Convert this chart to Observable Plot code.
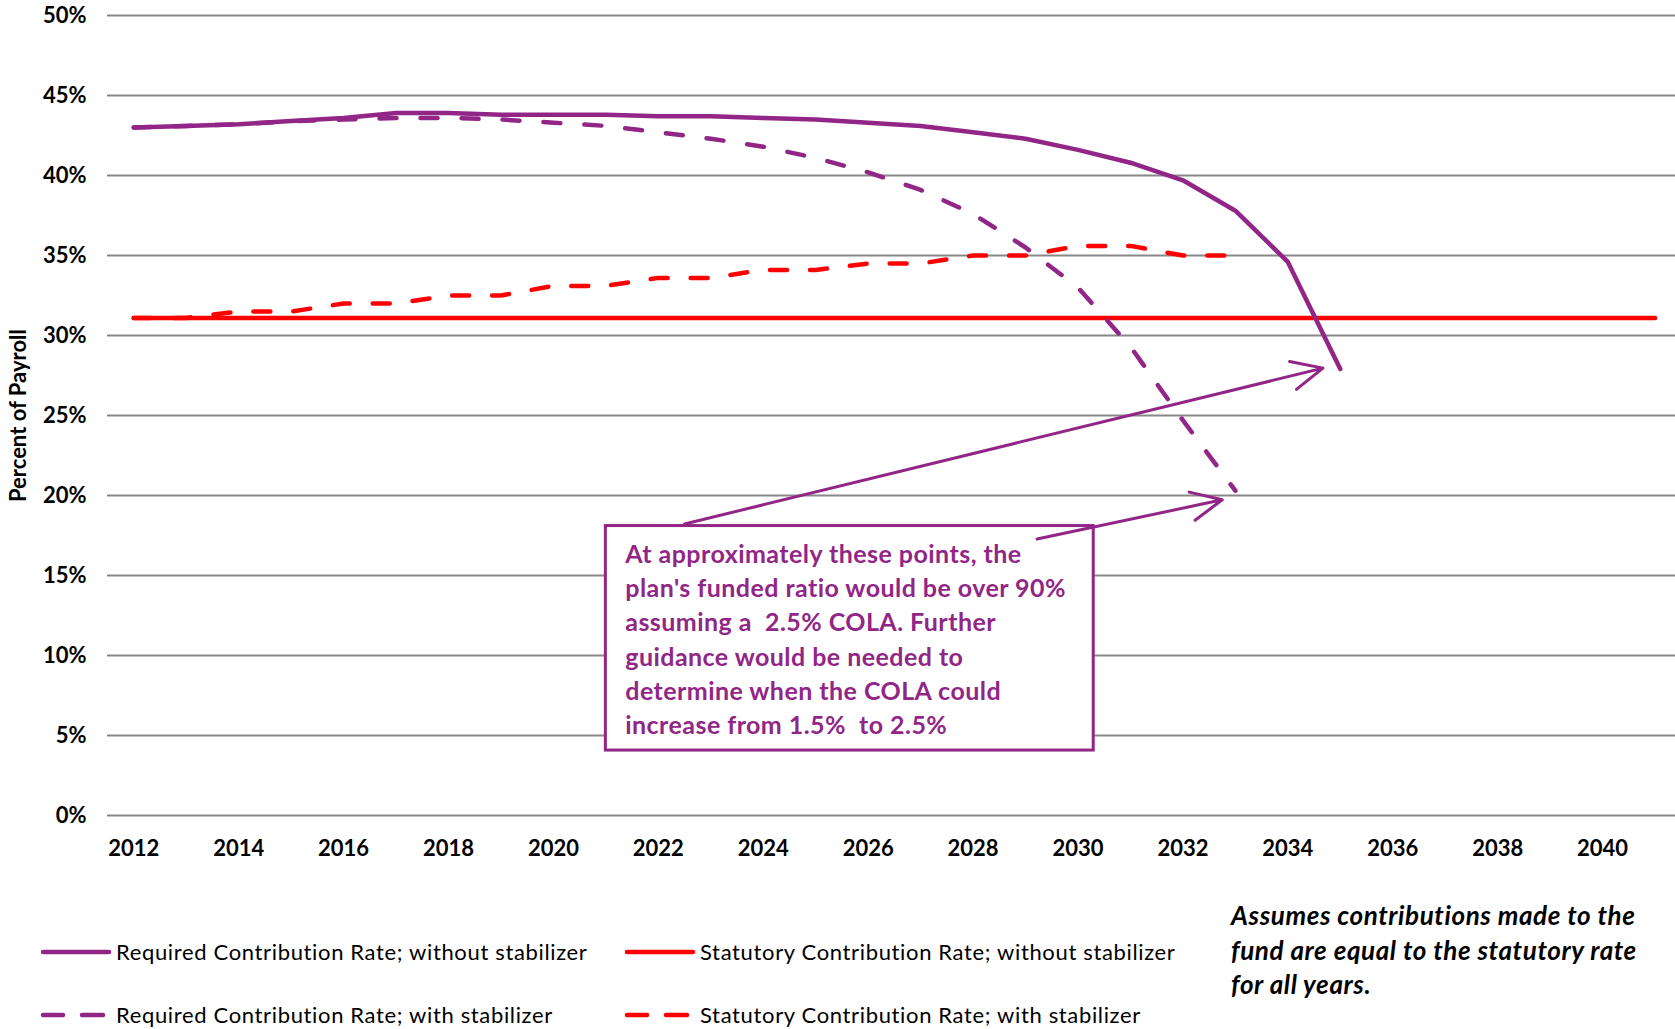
<!DOCTYPE html>
<html><head><meta charset="utf-8">
<script src="https://cdn.jsdelivr.net/npm/d3@7"></script>
<script src="https://cdn.jsdelivr.net/npm/@observablehq/plot@0.6"></script>
<style>
body{margin:0;background:#fff;font-family:Lato,sans-serif;}
#wrap{position:relative;width:1675px;height:1029px;overflow:hidden;background:#fff;}
#legend{position:relative;width:1675px;height:149px;}
.lab{position:absolute;font-size:22px;letter-spacing:0.65px;color:#000;white-space:nowrap;line-height:22px;}
.sw{position:absolute;}
.note{position:absolute;left:1231px;top:18px;font-size:26px;letter-spacing:0.6px;font-weight:bold;font-style:italic;line-height:34.6px;color:#000;white-space:nowrap;}
</style></head><body>
<div id="wrap"><div id="chart"></div><div id="legend"></div></div>
<script>
const years = [2012,2013,2014,2015,2016,2017,2018,2019,2020,2021,2022,2023,2024,2025,2026,2027,2028,2029,2030,2031,2032,2033,2034,2035,2036,2037,2038,2039,2040,2041];
const xTickYears = [2012,2014,2016,2018,2020,2022,2024,2026,2028,2030,2032,2034,2036,2038,2040];
const yTicks = [0,5,10,15,20,25,30,35,40,45,50];
const requiredWithout = [43.0,43.1,43.2,43.4,43.6,43.9,43.9,43.8,43.8,43.8,43.7,43.7,43.6,43.5,43.3,43.1,42.7,42.3,41.6,40.8,39.7,37.8,34.6,27.9];
const requiredWith = [43.0,43.1,43.2,43.4,43.5,43.6,43.6,43.5,43.3,43.1,42.7,42.3,41.8,41.1,40.2,39.1,37.6,35.5,33.0,29.3,24.7,20.3];
const statutoryWithout = [31.1,31.1,31.1,31.1,31.1,31.1,31.1,31.1,31.1,31.1,31.1,31.1,31.1,31.1,31.1,31.1,31.1,31.1,31.1,31.1,31.1,31.1,31.1,31.1,31.1,31.1,31.1,31.1,31.1,31.1];
const statutoryWith = [31.1,31.1,31.5,31.5,32.0,32.0,32.5,32.5,33.1,33.1,33.6,33.6,34.1,34.1,34.5,34.5,35.0,35.0,35.6,35.6,35.0,35.0];
const legendLabels = ["Required Contribution Rate; without stabilizer","Statutory Contribution Rate; without stabilizer","Required Contribution Rate; with stabilizer","Statutory Contribution Rate; with stabilizer"];
const noteLines = ["Assumes contributions made to the","fund are equal to the statutory rate","for all years."];
const boxLines = ["At approximately these points, the","plan's funded ratio would be over 90%","assuming a  2.5% COLA. Further","guidance would be needed to","determine when the COLA could","increase from 1.5%  to 2.5%"];
const boxX = [2021.0, 2030.3];
const boxY = [4.06, 18.09];
const arrowStart = [[2022.5, 18.22],[2029.22, 17.28]];
const arrowEnd = [[2034.67, 27.96],[2032.75, 19.73]];
const yAxisTitle = "Percent of Payroll";

const purple = "#912687", red = "#FF0000";
const rows = vals => vals.map((v,i)=>({year: years[i], value: v}));
const lineOpts = {x:"year", y:"value", strokeWidth:4.5, strokeLinecap:"round", strokeLinejoin:"round"};
const arrows = arrowStart.map((s,i)=>({x1:s[0], y1:s[1], x2:arrowEnd[i][0], y2:arrowEnd[i][1]}));

const chart = Plot.plot({
  width: 1675, height: 880,
  marginLeft: 107, marginRight: 0, marginTop: 15, marginBottom: 65,
  style: {fontFamily: "Lato, sans-serif", background: "#fff", color: "#000"},
  x: {domain: [2011.5, 2041.39]},
  y: {domain: [0, 50]},
  marks: [
    Plot.ruleY(yTicks, {stroke: "#888", strokeWidth: 2}),
    Plot.axisY({ticks: yTicks, tickFormat: d => d + "%", tickSize: 0, tickPadding: 21, fontSize: 22, fontWeight: "bold", label: null}),
    Plot.axisX({ticks: xTickYears, tickFormat: d => String(d), tickSize: 0, tickPadding: 25, fontSize: 22, fontWeight: "bold", label: null}),
    Plot.text([yAxisTitle], {text: d => d, frameAnchor: "left", textAnchor: "middle", rotate: -90, dx: -89, fontSize: 22, fontWeight: "bold", fill: "#000"}),
    Plot.line(rows(statutoryWithout), {...lineOpts, stroke: red}),
    Plot.line(rows(statutoryWith), {...lineOpts, stroke: red, strokeDasharray: "17 23"}),
    Plot.line(rows(requiredWithout), {...lineOpts, stroke: purple}),
    Plot.line(rows(requiredWith), {...lineOpts, stroke: purple, strokeDasharray: "17 24"}),
    Plot.rect([{x1: boxX[0], x2: boxX[1], y1: boxY[0], y2: boxY[1]}], {x1:"x1", x2:"x2", y1:"y1", y2:"y2", fill: "#fff", stroke: purple, strokeWidth: 3}),
    Plot.arrow(arrows, {x1:"x1", y1:"y1", x2:"x2", y2:"y2", stroke: purple, strokeWidth: 3, headLength: 17, headAngle: 50, bend: 0}),
    Plot.text([boxLines.join("\n")], {text: d => d, x: () => 2021.37, y: () => (boxY[0] + boxY[1]) / 2 + 0.05, textAnchor: "start", lineAnchor: "middle", lineHeight: 1.37, fontSize: 25, fontWeight: "bold", fill: purple})
  ]
});
document.getElementById("chart").appendChild(chart);
const textGroups = chart.querySelectorAll('g[aria-label="text"]');
textGroups[textGroups.length - 1].style.letterSpacing = "0.45px";

const legend = document.getElementById("legend");
const colors = [purple, red, purple, red];
const dashed = [false, false, true, true];
const colX = [43, 627];
const rowY = [72, 135];
const txtX = [116, 700];
legendLabels.forEach((lab, i) => {
  const c = i % 2, r = Math.floor(i / 2);
  const sw = document.createElementNS("http://www.w3.org/2000/svg", "svg");
  sw.setAttribute("class", "sw");
  sw.setAttribute("width", 72); sw.setAttribute("height", 12);
  sw.style.left = (colX[c] - 3) + "px"; sw.style.top = (rowY[r] - 6) + "px";
  const segs = dashed[i] ? [[3, 23], [42, 63]] : [[3, 69]];
  segs.forEach(([a, b]) => {
    const l = document.createElementNS("http://www.w3.org/2000/svg", "line");
    l.setAttribute("x1", a); l.setAttribute("x2", b); l.setAttribute("y1", 6); l.setAttribute("y2", 6);
    l.setAttribute("stroke", colors[i]); l.setAttribute("stroke-width", 4.5); l.setAttribute("stroke-linecap", "round");
    sw.appendChild(l);
  });
  legend.appendChild(sw);
  const t = document.createElement("div");
  t.className = "lab"; t.textContent = lab;
  t.style.left = txtX[c] + "px"; t.style.top = (rowY[r] - 11) + "px";
  legend.appendChild(t);
});
const note = document.createElement("div");
note.className = "note";
note.innerHTML = noteLines.map(s => s.replace(/&/g,"&amp;").replace(/</g,"&lt;")).join("<br>");
legend.appendChild(note);
</script>
</body></html>
